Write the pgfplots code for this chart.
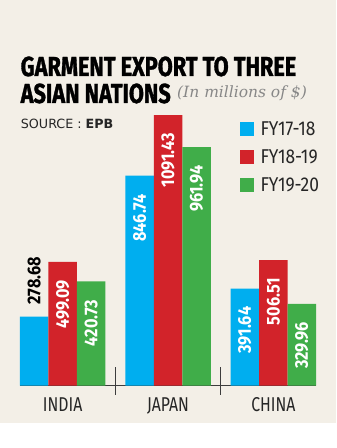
\documentclass[border=0pt]{standalone}
\usepackage{pgfplots}
\pgfplotsset{compat=1.18}
\usepackage{fontspec}
\setmainfont{Fira Sans}
\newfontfamily\titlefont[FakeStretch=0.79, BoldFeatures={FakeBold=1.2}]{Fira Sans}
\newfontfamily\catfont[FakeStretch=0.79]{Fira Sans}
\newfontfamily\legfont[FakeStretch=0.87]{Fira Sans}
\newfontfamily\numfont[FakeStretch=0.88]{Fira Sans}
\newfontfamily\srcfont{DejaVu Sans}
\newfontfamily\itfont{DejaVu Serif}
\definecolor{bgbeige}{RGB}{243,239,231}
\definecolor{fyblue}{RGB}{0,174,239}
\definecolor{fyred}{RGB}{210,35,42}
\definecolor{fygreen}{RGB}{64,173,73}
\definecolor{axisgray}{RGB}{60,60,60}
\definecolor{subgray}{RGB}{135,135,135}
\begin{document}
\begin{tikzpicture}
\begin{scope}[x=1bp,y=1bp,xshift=-20bp,yshift=-62.3bp]
\fill[white] (0,0) rectangle (336,448);
\fill[bgbeige] (0,25) rectangle (336,448);
\path[use as bounding box] (0,0) rectangle (336,448);
\node[anchor=base west, inner sep=0pt, text=black] at (20.5,372) {\titlefont\bfseries\fontsize{27.5bp}{27.5bp}\selectfont GARMENT EXPORT TO THREE};
\node[anchor=base west, inner sep=0pt, text=black] at (20.5,345) {\titlefont\bfseries\fontsize{27.5bp}{27.5bp}\selectfont ASIAN NATIONS};
\node[anchor=base west, inner sep=0pt, text=subgray] at (177,350.5) {\itfont\itshape\fontsize{15.5bp}{15.5bp}\selectfont (In millions of \$)};
\node[anchor=base west, inner sep=0pt, text=black!85] at (20.7,319.3) {\srcfont\fontsize{12.7bp}{12.7bp}\selectfont SOURCE : \textbf{EPB}};
\end{scope}
\begin{axis}[
  anchor=south west,
  scale only axis, width=296bp, height=272.8bp,
  xmin=-0.405, xmax=2.405, ymin=0, ymax=1100,
  ybar=0pt, bar width=28.5bp,
  axis x line*=bottom, axis y line=none,
  x axis line style={draw=axisgray, line width=1.3bp},
  xtick={0,1,2}, xticklabels={INDIA,JAPAN,CHINA},
  major tick length=0pt, ytick=\empty,
  xticklabel style={anchor=base, inner sep=0pt, yshift=-26bp, font=\catfont\fontsize{20bp}{20bp}\selectfont, text=black!85},
  clip=false,
  nodes near coords, point meta=explicit symbolic,
  every node near coord/.append style={rotate=90, anchor=east, inner ysep=0pt, inner xsep=18bp, text=white, font=\numfont\bfseries\fontsize{18.5bp}{18.5bp}\selectfont},
  visualization depends on={value \coordindex \as \myidx},
  legend style={at={(rel axis cs:0.7416,0.9677)}, anchor=north west, draw=none, fill=none, inner sep=0pt, outer sep=0pt, row sep=14bp, column sep=0pt, nodes={inner sep=0pt, text height=14bp, text depth=0pt}, font=\legfont\fontsize{20bp}{20bp}\selectfont, text=black!85},
  legend image code/.code={\fill[#1,draw=none] (0bp,-7bp) rectangle (14bp,7bp); \path (21bp,0bp);},
  legend cell align=left,
]
\addplot[fill=fyblue, draw=none, every node near coord/.append code={\ifnum\myidx=0 \pgfkeysalso{/tikz/anchor=west,/tikz/inner xsep=12bp,/tikz/text=black}\fi}]
  coordinates {(0,278.68) [278.68] (1,846.74) [846.74] (2,391.64) [391.64]};
\addplot[fill=fyred, draw=none]
  coordinates {(0,499.09) [499.09] (1,1091.43) [1091.43] (2,506.51) [506.51]};
\addplot[fill=fygreen, draw=none]
  coordinates {(0,420.73) [420.73] (1,961.94) [961.94] (2,329.96) [329.96]};
\legend{FY17-18,FY18-19,FY19-20}
\draw[axisgray, line width=1.2bp] (axis cs:0.5,-37.5) -- (axis cs:0.5,75);
\draw[axisgray, line width=1.2bp] (axis cs:1.5,-37.5) -- (axis cs:1.5,75);
\end{axis}
\end{tikzpicture}
\end{document}
